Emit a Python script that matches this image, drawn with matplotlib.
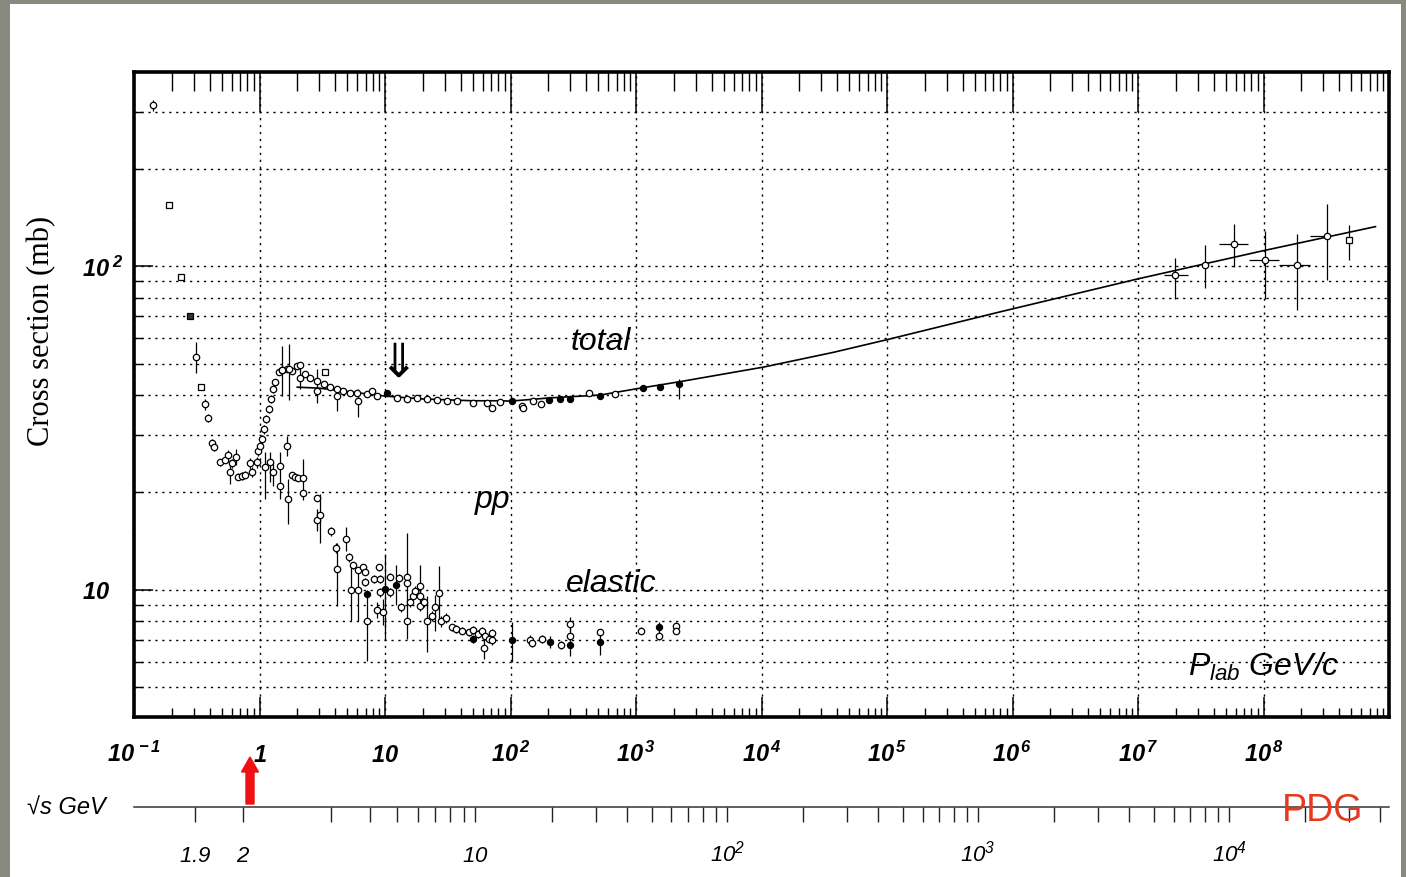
import numpy as np
import matplotlib
matplotlib.use("Agg")
import matplotlib.pyplot as plt
from matplotlib.ticker import LogLocator, NullFormatter, NullLocator
from matplotlib.patches import Rectangle, FancyArrow

plt.rcParams['mathtext.fontset'] = 'custom'
plt.rcParams['mathtext.rm'] = 'Liberation Sans:bold:italic'
plt.rcParams['mathtext.it'] = 'Liberation Sans:italic'
plt.rcParams['mathtext.sf'] = 'Liberation Sans:italic'
plt.rcParams['mathtext.bf'] = 'Liberation Sans:bold'
plt.rcParams['font.family'] = ['Liberation Sans', 'DejaVu Sans']

# ---------------- data ----------------
# total cross section, open circles
tot_p = [0.1415, 0.311, 0.37, 0.39, 0.422, 0.43, 0.486, 0.533, 0.556, 0.584,
         0.60, 0.652, 0.68, 0.724, 0.77, 0.833, 0.87, 0.95, 0.98, 1.01,
         1.045, 1.09, 1.13, 1.18, 1.23, 1.28, 1.33, 1.42, 1.51, 1.65,
         1.81, 1.99, 2.11, 2.31, 2.54, 2.87, 3.24, 3.66, 4.14, 4.67,
         5.28, 5.97, 7.17, 7.87, 8.62, 12.4, 14.9, 17.9, 21.6, 25.9,
         31.1, 37.4, 50.7, 64.8, 82.8, 123, 152, 175, 420, 685]
tot_s = [314, 52.6, 37.4, 34.0, 28.4, 27.7, 24.8, 25.2, 26.1, 23.2,
         24.6, 25.8, 22.4, 22.5, 22.7, 24.6, 23.2, 24.8, 26.9, 27.9,
         29.2, 31.4, 33.7, 36.2, 38.9, 41.7, 43.8, 47.0, 47.9, 48.3,
         47.5, 49.2, 49.5, 46.4, 45.3, 44.2, 43.2, 42.2, 41.7, 41.2,
         40.7, 40.7, 40.4, 41.2, 39.8, 39.3, 39.0, 39.3, 38.9, 38.6,
         38.4, 38.4, 37.9, 37.9, 38.1, 37.0, 38.4, 37.5, 40.5, 40.3]
tot_err = [12, 5.8, 1.5, 1.0, 0.8, 0.8, 0.6, 0.6, 1.0, 2.0,
           0.8, 1.4, 0.6, 0.6, 0.6, 1.0, 0.8, 1.0, 1.0, 1.0,
           1.0, 1.0, 1.0, 1.0, 1.0, 1.0, 1.0, 0.8, 0.8, 0.8,
           0.8, 0.8, 0.8, 0.8, 0.6, 0.6, 0.6, 0.6, 0.6, 0.5,
           0.5, 0.5, 0.5, 0.5, 0.5, 0.4, 0.4, 0.4, 0.4, 0.4,
           0.4, 0.4, 0.4, 0.4, 0.4, 0.5, 0.4, 0.4, 0.4, 0.4]

# total, scattered measurements with large errors
tot2_p = [1.51, 1.72, 2.11, 2.87, 4.14, 6.04, 71.2, 126]
tot2_s = [47.9, 48.0, 45.3, 41.2, 39.6, 38.2, 36.4, 36.6]
tot2_lo = [8.1, 9.5, 3.6, 3.4, 3.8, 4.0, 0.5, 0.5]
tot2_hi = [8.9, 9.3, 4.1, 6.9, 3.1, 3.5, 0.5, 0.5]

# total, squares
sq_p = [0.191, 0.238, 0.343, 3.34]
sq_s = [155, 92.5, 42.4, 47.0]
sqf_p = [0.28]
sqf_s = [70]

# total, filled circles
totf_p = [10.4, 102, 204, 249, 298, 520, 1140, 1560, 2190]
totf_s = [40.5, 38.2, 38.6, 39.0, 39.0, 39.8, 41.9, 42.4, 43.2]
totf_lo = [0.6, 0.8, 0.5, 0.5, 0.5, 0.5, 0.5, 0.5, 4.4]
totf_hi = [0.6, 0.8, 0.5, 0.5, 0.5, 0.5, 0.5, 0.5, 1.5]

# cosmic-ray total cross sections
cr_p = [1.98e7, 3.43e7, 5.87e7, 1.03e8, 1.85e8, 3.2e8]
cr_s = [93.9, 101.2, 117.3, 104.3, 100.5, 124.1]
cr_lo = [14.5, 15.4, 17.8, 25.2, 27.2, 33.5]
cr_hi = [12.1, 15.3, 17.5, 24.5, 25.5, 31.9]
cr_xlo = [0.38e7, 0.0, 1.43e7, 2.7e7, 0.53e8, 0.84e8]
cr_xhi = [0.50e7, 0.0, 1.65e7, 2.9e7, 0.48e8, 0.10e8]
crsq_p = [4.76e8]
crsq_s = [120.1]
crsq_lo = [15.3]
crsq_hi = [13.9]

# fit curve through total cross section
fit_p = [2.0, 3.0, 5.0, 10, 20, 50, 83, 100, 207, 520, 1.04e3, 2.25e3,
         1.04e4, 3.75e4, 1.0e5, 8.0e5, 1.0e7, 1.0e8, 7.8e8]
fit_s = [42.3, 42.0, 41.0, 39.7, 38.9, 38.4, 38.4, 38.3, 39.2, 40.0, 41.9, 44.0,
         48.8, 54.2, 59.3, 72.3, 91.4, 111.7, 132.5]

# elastic cross section, open circles
el_p = [1.11, 1.22, 1.29, 1.46, 1.46, 1.70, 1.81, 1.93, 2.04, 2.22,
        2.24, 2.86, 2.86, 3.05, 3.71, 4.09, 4.18, 4.89, 5.12, 5.35,
        5.60, 6.04, 6.04, 6.74, 6.95, 6.95, 7.17, 8.20, 8.60, 8.90,
        9.17, 9.17, 9.60, 11.0, 11.0, 12.9, 13.4, 14.9, 14.9, 14.9,
        15.9, 16.7, 17.2, 18.9, 18.9, 18.9, 20.5, 21.6, 23.6, 24.8,
        27.0, 28.0, 30.5, 34.2, 36.9, 40.8, 46.3, 50.3, 54.6, 59.3,
        61.0, 63.2, 67.4, 71.2, 71.2, 142, 148, 178, 252, 298,
        298, 513, 1104, 1520, 2090, 2090, 1.65]
el_s = [23.9, 24.8, 23.1, 24.2, 21.0, 19.1, 22.6, 22.4, 22.1, 22.1,
        19.9, 19.2, 16.4, 17.0, 15.2, 13.5, 11.6, 14.4, 12.6, 10.0,
        11.9, 11.5, 10.0, 11.75, 11.4, 10.6, 8.0, 10.8, 8.7, 11.75,
        10.8, 9.84, 8.57, 11.0, 9.84, 10.9, 8.84, 11.0, 10.5, 8.04,
        9.16, 9.6, 9.95, 10.3, 9.6, 8.9, 9.16, 8.04, 8.33, 8.84,
        9.79, 8.0, 8.18, 7.67, 7.58, 7.49, 7.40, 7.53, 7.31, 7.49,
        6.61, 7.22, 7.06, 7.35, 6.98, 7.0, 6.85, 7.06, 6.76, 7.85,
        7.22, 7.40, 7.49, 7.2, 7.76, 7.49, 27.9]
el_lo = [4.8, 3.2, 2.1, 0.4, 1.9, 3.1, 0.3, 0.3, 0.3, 3.2,
         0.4, 0.4, 1.2, 3.0, 0.5, 0.5, 2.7, 1.2, 0.4, 2.0,
         0.3, 0.3, 2.0, 0.3, 0.3, 0.3, 1.95, 0.3, 0.5, 0.3,
         0.3, 0.3, 0.8, 0.3, 0.3, 0.3, 0.3, 0.3, 0.3, 1.0,
         0.3, 0.3, 0.3, 1.4, 0.3, 0.3, 0.3, 1.6, 0.3, 1.4,
         1.8, 0.3, 0.3, 0.2, 0.2, 0.2, 0.2, 0.2, 0.2, 0.2,
         0.5, 0.2, 0.2, 0.2, 0.2, 0.25, 0.2, 0.2, 0.2, 0.4,
         0.4, 0.2, 0.2, 0.2, 0.2, 0.2, 2.0]
el_hi = [2.7, 1.8, 1.7, 0.4, 5.6, 2.9, 0.3, 0.3, 0.3, 3.3,
         0.4, 0.4, 1.4, 2.8, 0.5, 0.5, 2.4, 1.2, 0.4, 1.9,
         0.3, 0.3, 1.5, 0.3, 0.3, 0.3, 1.84, 0.3, 0.5, 0.3,
         0.3, 0.3, 0.8, 0.3, 0.3, 0.3, 0.3, 0.3, 0.3, 6.9,
         0.3, 0.3, 0.3, 1.6, 0.3, 0.3, 0.3, 1.55, 0.3, 0.8,
         2.1, 0.3, 0.3, 0.2, 0.2, 0.2, 0.2, 0.2, 0.2, 0.2,
         0.5, 0.2, 0.2, 0.2, 0.2, 0.25, 0.2, 0.2, 0.2, 0.4,
         0.4, 0.2, 0.2, 0.2, 0.2, 0.2, 2.0]

# elastic, filled circles
elf_p = [7.17, 10.06, 12.3, 50.3, 102, 208, 298, 513, 1520]
elf_s = [9.72, 10.1, 10.35, 7.06, 7.0, 6.9, 6.76, 6.9, 7.67]
elf_lo = [0.3, 3.1, 1.35, 0.2, 1.0, 0.3, 0.5, 0.6, 0.3]
elf_hi = [0.3, 2.8, 1.55, 0.2, 0.95, 0.3, 0.5, 0.6, 0.3]

# axis tick values and labels
x_ticks = [1e-1, 1, 10, 1e2, 1e3, 1e4, 1e5, 1e6, 1e7, 1e8]
x_labels = [r'$10^{\,-1}$', r'$1$', r'$10$', r'$10^{\,2}$', r'$10^{\,3}$', r'$10^{\,4}$',
            r'$10^{\,5}$', r'$10^{\,6}$', r'$10^{\,7}$', r'$10^{\,8}$']
y_ticks = [10, 100]
y_labels = [r'$10$', r'$10^{\;2}$']
rs_ticks = [1.9, 2, 3, 4, 5, 6, 7, 8, 9, 10,
            20, 30, 40, 50, 60, 70, 80, 90, 100,
            200, 300, 400, 500, 600, 700, 800, 900, 1000,
            2000, 3000, 4000, 5000, 6000, 7000, 8000, 9000, 1e4,
            2e4, 3e4, 4e4]
rs_label_map = {1.9: r'$\mathsf{1.9}$', 2: r'$\mathsf{2}$', 10: r'$\mathsf{10}$',
                100: r'$\mathsf{10^{2}}$', 1000: r'$\mathsf{10^{3}}$',
                1e4: r'$\mathsf{10^{4}}$'}
rs_labels = [rs_label_map.get(v, '') for v in rs_ticks]

M_P = 0.938  # proton mass, GeV


def p_to_rs(p):
    p = np.asarray(p, dtype=float)
    return np.sqrt(2 * M_P ** 2 + 2 * M_P * np.sqrt(p ** 2 + M_P ** 2))


def rs_to_p(rs):
    rs = np.asarray(rs, dtype=float)
    e = (rs ** 2 - 2 * M_P ** 2) / (2 * M_P)
    e = np.maximum(e, M_P)
    return np.sqrt(np.maximum(e ** 2 - M_P ** 2, 1e-12))


# ---------------- figure ----------------
W, H = 1406, 878
fig = plt.figure(figsize=(W / 100, H / 100), dpi=100)
fig.patch.set_facecolor('#868a7e')
fig.add_artist(Rectangle((10 / W, 0), 1391 / W, 873 / H, transform=fig.transFigure,
                         facecolor='white', edgecolor='none', zorder=-5))

L, R, T, B = 134, 1389, 73, 718
ax = fig.add_axes([L / W, 1 - B / H, (R - L) / W, (B - T) / H])
ax.set_xscale('log')
ax.set_yscale('log')
ax.set_xlim(0.1, 1e9)
ax.set_ylim(4.05, 398)
ax.set_facecolor('white')

for sp in ax.spines.values():
    sp.set_linewidth(2.6)
    sp.set_color('black')

ax.set_axisbelow(True)
ax.xaxis.set_minor_locator(LogLocator(base=10, subs=np.arange(2, 10), numticks=200))
ax.yaxis.set_minor_locator(LogLocator(base=10, subs=np.arange(2, 10), numticks=200))
ax.xaxis.set_minor_formatter(NullFormatter())
ax.yaxis.set_minor_formatter(NullFormatter())

ax.set_xticks(x_ticks, x_labels)
ax.set_yticks(y_ticks, y_labels)

grid_kw = dict(color='black', linewidth=1.0, linestyle=(0, (1.6, 3.4)))
ax.xaxis.grid(True, which='major', **grid_kw)
ax.yaxis.grid(True, which='both', **grid_kw)

ax.tick_params(axis='x', which='major', direction='in', length=14.5, width=1.1,
               top=False, bottom=True, pad=31.5, labelsize=17)
ax.tick_params(axis='x', which='minor', direction='in', length=6.5, width=1.0,
               top=False, bottom=True)
ax.tick_params(axis='y', which='major', direction='in', length=14, width=1.1,
               left=True, right=False, pad=37.5, labelsize=17)
ax.tick_params(axis='y', which='minor', direction='in', length=6.5, width=1.0,
               left=True, right=False)
for t in ax.get_xticklabels():
    t.set_verticalalignment('baseline')
for t in ax.get_yticklabels():
    t.set_horizontalalignment('left')

ax.set_ylabel('Cross section (mb)', family='Liberation Serif', fontsize=22, va='center')
ax.yaxis.set_label_coords(-(L - 42) / (R - L), (B - 331) / (B - T))

# top ticks (longer, inward)
topax = ax.secondary_xaxis('top')
topax.set_xticks(x_ticks)
topax.xaxis.set_minor_locator(LogLocator(base=10, subs=np.arange(2, 10), numticks=200))
topax.xaxis.set_major_formatter(NullFormatter())
topax.xaxis.set_minor_formatter(NullFormatter())
topax.tick_params(which='major', direction='in', length=29, width=1.1, labeltop=False)
topax.tick_params(which='minor', direction='in', length=13.5, width=1.0, labeltop=False)
topax.spines['top'].set_visible(False)

# sqrt(s) axis
sax = ax.secondary_xaxis(-(808 - B) / (B - T), functions=(p_to_rs, rs_to_p))
sax.set_xticks(rs_ticks, rs_labels)
sax.xaxis.set_minor_locator(NullLocator())
sax.tick_params(which='major', direction='out', length=10.8, width=1.0, color='#222222',
                pad=28, labelsize=16)
sax.spines['bottom'].set_linewidth(1.1)
sax.spines['bottom'].set_color('#333333')
for t in sax.get_xticklabels():
    t.set_verticalalignment('baseline')

# ---------------- data marks ----------------
common = dict(ecolor='black', elinewidth=0.9, capsize=0, mec='black', mew=0.9, zorder=3,
              linestyle='none')
ax.plot(fit_p, fit_s, color='black', lw=1.2, zorder=2.5)
ax.errorbar(tot_p, tot_s, yerr=tot_err, fmt='o', ms=4.6, mfc='white', **common)
ax.errorbar(tot2_p, tot2_s, yerr=[tot2_lo, tot2_hi], fmt='o', ms=4.6, mfc='white', **common)
ax.errorbar(totf_p, totf_s, yerr=[totf_lo, totf_hi], fmt='o', ms=4.4, mfc='black', **common)
ax.plot(sq_p, sq_s, 's', ms=4.2, mfc='white', mec='black', mew=0.9, zorder=3)
ax.plot(sqf_p, sqf_s, 's', ms=4.2, mfc='#333333', mec='black', mew=0.9, zorder=3)
ax.errorbar(el_p, el_s, yerr=[el_lo, el_hi], fmt='o', ms=4.6, mfc='white', **common)
ax.errorbar(elf_p, elf_s, yerr=[elf_lo, elf_hi], fmt='o', ms=4.4, mfc='black', **common)
ax.errorbar(cr_p, cr_s, yerr=[cr_lo, cr_hi], xerr=[cr_xlo, cr_xhi], fmt='o', ms=4.6,
            mfc='white', **common)
ax.errorbar(crsq_p, crsq_s, yerr=[crsq_lo, crsq_hi], fmt='s', ms=4.2, mfc='white', **common)

# ---------------- annotations ----------------
txt_kw = dict(fontsize=23, style='italic', family='Liberation Sans')
ax.text(528, 55.4, 'total', ha='center', va='baseline', **txt_kw)
ax.text(72.1, 18.0, 'pp', ha='center', va='baseline', **txt_kw)
ax.text(632, 9.95, 'elastic', ha='center', va='baseline', **txt_kw)
ax.text(2.5e7, 5.47, r'$P_{lab}$ GeV/c', ha='left', va='baseline', **txt_kw)
ax.text(12.7, 50.2, '\u21d3', ha='center', va='center', fontsize=34,
        family=['DejaVu Sans'])

fig.text(27 / W, 1 - 808 / H, '\u221as GeV', ha='left', va='center', fontsize=17,
         style='italic', family=['Liberation Sans', 'DejaVu Sans'])
fig.text(1282 / W, 1 - 821 / H, 'PDG', ha='left', va='baseline', fontsize=27,
         color='#e53a1f', family='Liberation Sans')
fig.add_artist(FancyArrow(250 / W, 1 - 805 / H, 0, 47 / H, width=5 / H,
                          head_width=17 / W, head_length=15 / H,
                          length_includes_head=True, color='#ee1111',
                          transform=fig.transFigure))

fig.savefig('out.png', dpi=100, facecolor=fig.get_facecolor())
